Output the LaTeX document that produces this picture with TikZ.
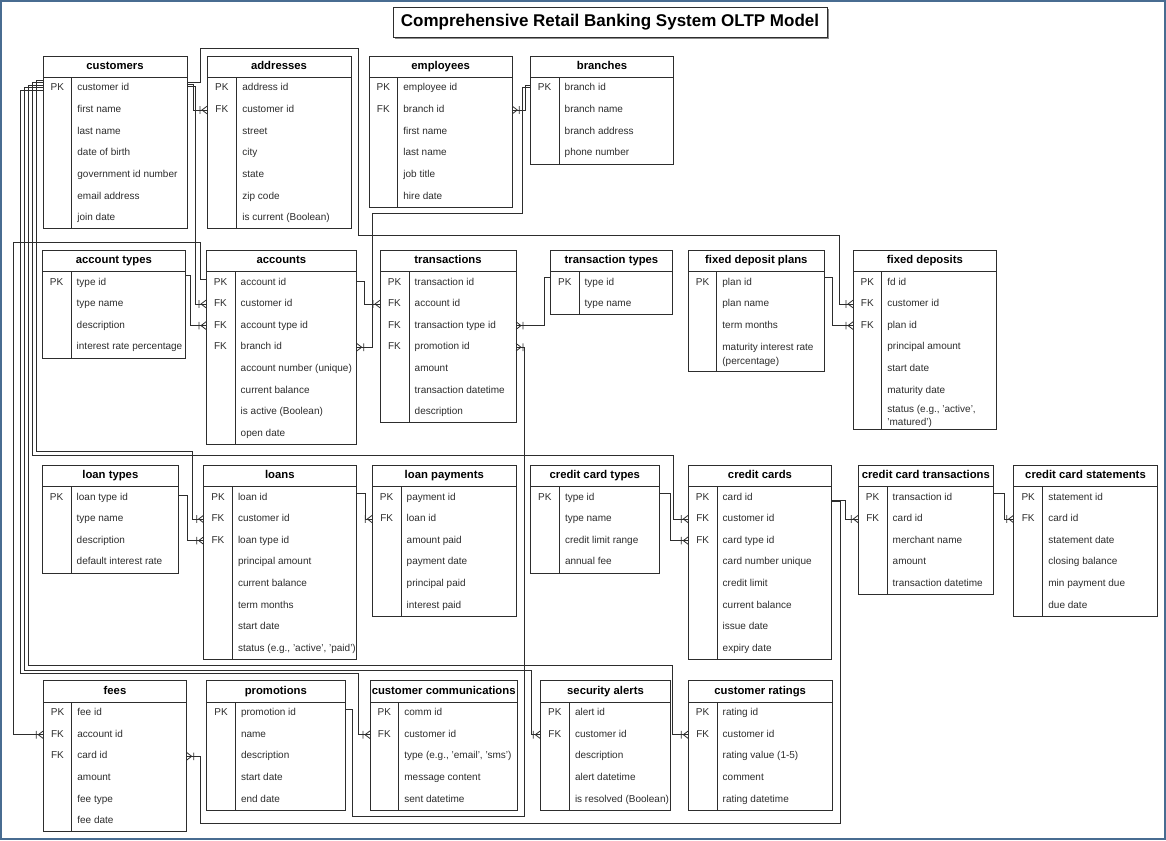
\documentclass[tikz,border=0pt]{standalone}
\usepackage{fontspec}
\setmainfont{Liberation Sans}
\usetikzlibrary{arrows.meta,calc}
\definecolor{frameblue}{RGB}{72,108,145}
\definecolor{ink}{RGB}{45,45,45}

\pgfdeclarearrow{
  name = Crow,
  setup code = {
    \pgfarrowssettipend{0pt}
    \pgfarrowssetlineend{0pt}
    \pgfarrowssetbackend{-8pt}
    \pgfarrowssetvisualbackend{-8pt}
  },
  drawing code = {
    \pgfsetdash{}{0pt}
    \pgfpathmoveto{\pgfqpoint{0pt}{3.8pt}}
    \pgfpathlineto{\pgfqpoint{-5pt}{0pt}}
    \pgfpathlineto{\pgfqpoint{0pt}{-3.8pt}}
    \pgfpathmoveto{\pgfqpoint{-7pt}{3.8pt}}
    \pgfpathlineto{\pgfqpoint{-7pt}{-3.8pt}}
    \pgfusepathqstroke
  }
}

\newcommand\fldfont{\fontsize{10}{12}\selectfont}
\newcommand\hdrfont{\fontsize{11.3}{13}\selectfont\bfseries}

\tikzset{
  tblbox/.style={draw=ink, line width=0.9pt, inner sep=0pt, outer sep=0pt, fill=white},
  tblline/.style={draw=ink, line width=0.9pt},
  hdr/.style={font=\hdrfont, inner sep=0pt, text=black, text height=8.3pt, text depth=2.4pt},
  keytxt/.style={font=\fldfont, inner sep=0pt, text=ink, text height=7.3pt, text depth=2.1pt},
  fldtxt/.style={font=\fldfont, inner sep=0pt, anchor=west, text=ink, text height=7.3pt, text depth=2.1pt},
  twoline/.style={font=\fldfont, inner sep=0pt, anchor=west, text=ink, align=left},
  rel/.style={draw=ink, line width=0.8pt, -{Crow}},
}

% id, left, top, right, divider, bottom, title
\newcommand\ertbl[7]{%
  \node[tblbox, minimum width={(#4)-(#2)}, minimum height={(#6)-(#3)}] (#1) at ({((#2)+(#4))/2},{((#3)+(#6))/2}) {};
  \draw[tblline] ({#2},{#3+21.6}) -- ({#4},{#3+21.6});
  \draw[tblline] ({#5},{#3+21.6}) -- ({#5},{#6});
  \node[hdr] (#1-h) at ({((#2)+(#4))/2},{#3+10.8}) {#7};
}
% id, left, divider, top, list
\newcommand\errows[5]{%
  \foreach \k/\f [count=\i] in {#5} {
    \node[keytxt] (#1-k\i) at ({((#2)+(#3))/2},{#4+21.6+(\i-0.5)*21.6}) {\k};
    \node[fldtxt] (#1-\i) at ({#3+5.5},{#4+21.6+(\i-0.5)*21.6}) {\f};
  }
}

\begin{document}
\begin{tikzpicture}[x=1pt,y=-1pt]
\useasboundingbox (0,0) rectangle (1166,840);
\fill[white] (0,0) rectangle (1166,840);

% title
\fill[black!45] (395,9) rectangle (829,39);
\node[draw=ink, fill=white, line width=0.9pt, minimum width=434, minimum height=30, inner sep=0pt,
      font=\fontsize{17}{20}\selectfont\bfseries] (title) at (610,22) {Comprehensive Retail Banking System OLTP Model};

% ---------- tables (row 1) ----------
\ertbl{cust}{43}{56}{187}{71.7}{228.8}{customers}
\errows{cust}{43}{71.7}{56}{PK/customer id, /first name, /last name, /date of birth, /government id number, /email address, /join date}
\ertbl{addr}{207}{56}{351}{236.7}{228.8}{addresses}
\errows{addr}{207}{236.7}{56}{PK/address id, FK/customer id, /street, /city, /state, /zip code, /is current (Boolean)}
\ertbl{emp}{369}{56}{512.3}{397.7}{207.2}{employees}
\errows{emp}{369}{397.7}{56}{PK/employee id, FK/branch id, /first name, /last name, /job title, /hire date}
\ertbl{br}{530.3}{56}{673.7}{559}{164}{branches}
\errows{br}{530.3}{559}{56}{PK/branch id, /branch name, /branch address, /phone number}

% ---------- row 2 ----------
\ertbl{atyp}{42}{250}{185.7}{71}{358}{account types}
\errows{atyp}{42}{71}{250}{PK/type id, /type name, /description, /interest rate percentage}
\ertbl{acc}{206}{250}{356.7}{235}{444.4}{accounts}
\errows{acc}{206}{235}{250}{PK/account id, FK/customer id, FK/account type id, FK/branch id, /account number (unique), /current balance, /is active (Boolean), /open date}
\ertbl{txn}{380}{250}{516}{409}{422.8}{transactions}
\errows{txn}{380}{409}{250}{PK/transaction id, FK/account id, FK/transaction type id, FK/promotion id, /amount, /transaction datetime, /description}
\ertbl{ttyp}{550.7}{250}{672.3}{579}{314.8}{transaction types}
\errows{ttyp}{550.7}{579}{250}{PK/type id, /type name}
\ertbl{fdp}{688.3}{250}{824.3}{716.7}{371.3}{fixed deposit plans}
\errows{fdp}{688.3}{716.7}{250}{PK/plan id, /plan name, /term months}
\node[twoline, font=\fontsize{10}{14}\selectfont] (fdp-4) at (722.2,354.5) {maturity interest rate\\(percentage)};
\ertbl{fd}{853}{250}{996.7}{881.7}{429.3}{fixed deposits}
\errows{fd}{853}{881.7}{250}{PK/fd id, FK/customer id, FK/plan id, /principal amount, /start date, /maturity date}
\node[twoline, font=\fontsize{10}{13}\selectfont] (fd-7) at (887.2,416) {status (e.g., 'active',\\'matured')};

% ---------- row 3 ----------
\ertbl{ltyp}{42}{465}{178.7}{71}{573}{loan types}
\errows{ltyp}{42}{71}{465}{PK/loan type id, /type name, /description, /default interest rate}
\ertbl{loan}{203.7}{465}{356}{232.3}{659.4}{loans}
\errows{loan}{203.7}{232.3}{465}{PK/loan id, FK/customer id, FK/loan type id, /principal amount, /current balance, /term months, /start date, /{status (e.g., 'active', 'paid')}}
\ertbl{lpay}{372.3}{465}{516.3}{401}{616.2}{loan payments}
\errows{lpay}{372.3}{401}{465}{PK/payment id, FK/loan id, /amount paid, /payment date, /principal paid, /interest paid}
\ertbl{cctyp}{530.3}{465}{659.3}{559.3}{573}{credit card types}
\errows{cctyp}{530.3}{559.3}{465}{PK/type id, /type name, /credit limit range, /annual fee}
\ertbl{cc}{688.3}{465}{831.7}{717}{659.4}{credit cards}
\errows{cc}{688.3}{717}{465}{PK/card id, FK/customer id, FK/card type id, /card number unique, /credit limit, /current balance, /issue date, /expiry date}
\ertbl{cctx}{858.3}{465}{993.3}{887}{594.6}{credit card transactions}
\errows{cctx}{858.3}{887}{465}{PK/transaction id, FK/card id, /merchant name, /amount, /transaction datetime}
\ertbl{ccst}{1013.7}{465}{1157.3}{1042.7}{616.2}{credit card statements}
\errows{ccst}{1013.7}{1042.7}{465}{PK/statement id, FK/card id, /statement date, /closing balance, /min payment due, /due date}

% ---------- row 4 ----------
\ertbl{fees}{43.3}{680.7}{186.7}{71.7}{831.9}{fees}
\errows{fees}{43.3}{71.7}{680.7}{PK/fee id, FK/account id, FK/card id, /amount, /fee type, /fee date}
\ertbl{promo}{206.7}{680.7}{345}{235.3}{810.3}{promotions}
\errows{promo}{206.7}{235.3}{680.7}{PK/promotion id, /name, /description, /start date, /end date}
\ertbl{comm}{370}{680.7}{517.3}{398.7}{810.3}{customer communications}
\errows{comm}{370}{398.7}{680.7}{PK/comm id, FK/customer id, /{type (e.g., 'email', 'sms')}, /message content, /sent datetime}
\ertbl{alert}{540.3}{680.7}{670.7}{569.3}{810.3}{security alerts}
\errows{alert}{540.3}{569.3}{680.7}{PK/alert id, FK/customer id, /description, /alert datetime, /is resolved (Boolean)}
\ertbl{rate}{688.3}{680.7}{832}{717}{810.3}{customer ratings}
\errows{rate}{688.3}{717}{680.7}{PK/rating id, FK/customer id, /rating value (1-5), /comment, /rating datetime}

% ---------- connectors ----------
\draw[rel] ($(cust.east|-cust-1)+(0,-4.4)$) -- ++(6,0) |- (addr.west|-addr-2);
\draw[rel] ($(cust.east|-cust-1)+(0,-2.4)$) -- ++(8,0) |- (acc.west|-acc-2);
\draw[rel] ($(cust.east|-cust-1)+(0,-6.4)$) -- ++(13,0) -- ++(0,-34) -- ++(158,0) -- ++(0,187) -- ++(481,0) |- (fd.west|-fd-2);
\draw[rel] ($(acc.west|-acc-1)+(0,-3.5)$) -- ++(-6,0) -- ++(0,-37) -- ++(-187,0) |- (fees.west|-fees-2);
\draw[rel] ($(atyp.east|-atyp-1)+(0,-7)$) -- ++(4.3,0) |- (acc.west|-acc-3);
\draw[rel] ($(acc.east|-acc-1)+(0,-0.7)$) -- ++(7.6,0) |- (txn.west|-txn-2);
\draw[rel] ($(br.west|-br-1)+(0,-1)$) -- ++(-7.6,0) -- ++(0,126) -- ++(-150.7,0) |- (acc.east|-acc-4);
\draw[rel] ($(br.west|-br-1)+(0,-3.4)$) -- ++(-4.5,0) |- (emp.east|-emp-2);
\draw[rel] ($(ttyp.west|-ttyp-1)+(0,-4.8)$) -- ++(-6.4,0) |- (txn.east|-txn-3);
\draw[rel] ($(promo.east|-promo-1)+(0,-3.8)$) -- ++(7,0) -- ++(0,107) -- ++(172,0) |- (txn.east|-txn-4);
\draw[rel] ($(fdp.east|-fdp-1)+(0,-4.8)$) -- ++(8,0) |- (fd.west|-fd-3);
\draw[rel] ($(ltyp.east|-ltyp-1)+(0,-2.5)$) -- ++(8.3,0) |- (loan.west|-loan-3);
\draw[rel] ($(cust.west|-cust-1)+(0,-8.4)$) -- ++(-7,0) -- ++(0,371) -- ++(156.7,0) |- (loan.west|-loan-2);
\draw[rel] ($(cust.west|-cust-1)+(0,-5.9)$) -- ++(-11,0) -- ++(0,372.5) -- ++(641.3,0) |- (cc.west|-cc-2);
\draw[rel] ($(cust.west|-cust-1)+(0,-3.4)$) -- ++(-15,0) -- ++(0,580) -- ++(644.3,0) |- (rate.west|-rate-2);
\draw[rel] ($(cust.west|-cust-1)+(0,-0.9)$) -- ++(-19,0) -- ++(0,582.5) -- ++(507,0) |- (alert.west|-alert-2);
\draw[rel] ($(cust.west|-cust-1)+(0,1.6)$) -- ++(-23,0) -- ++(0,583.4) -- ++(338.3,0) |- (comm.west|-comm-2);
\draw[rel] ($(loan.east|-loan-1)+(0,-4.2)$) -- ++(9,0) |- (lpay.west|-lpay-2);
\draw[rel] ($(cctyp.east|-cctyp-1)+(0,-4.2)$) -- ++(11.4,0) |- (cc.west|-cc-3);
\draw[rel] ($(cc.east|-cc-1)+(0,2.6)$) -- ++(13.3,0) |- (cctx.west|-cctx-2);
\draw[rel] ($(cc.east|-cc-1)+(0,4.3)$) -- ++(8.3,0) -- ++(0,321.6) -- ++(-640,0) |- (fees.east|-fees-3);
\draw[rel] ($(cctx.east|-cctx-1)+(0,-4.2)$) -- ++(10.7,0) |- (ccst.west|-ccst-2);

% outer frame
\draw[frameblue, line width=2pt] (1,1) rectangle (1165,839);
\end{tikzpicture}
\end{document}
